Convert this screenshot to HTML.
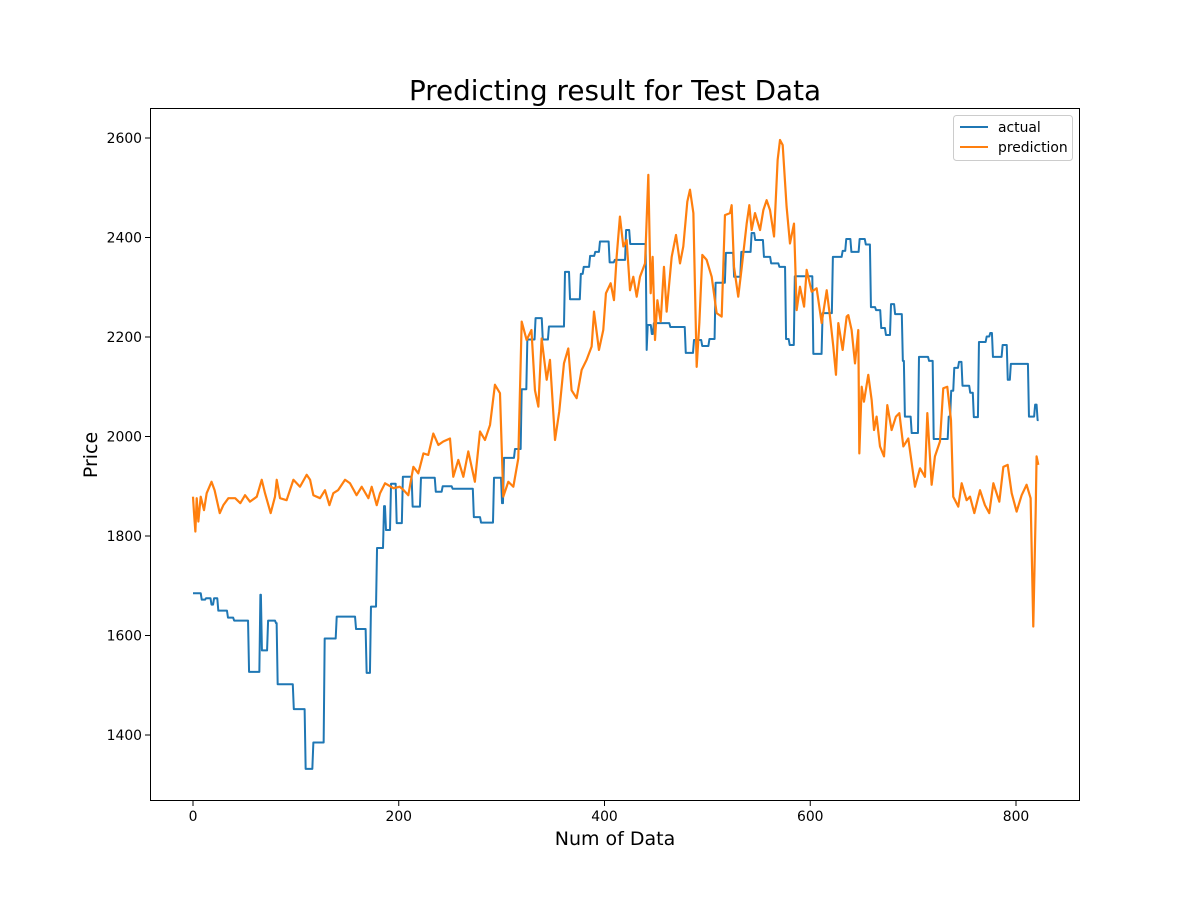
<!DOCTYPE html>
<html><head><meta charset="utf-8"><style>
body{margin:0;background:#fff;}
svg{display:block;font-family:"DejaVu Sans","Liberation Sans",sans-serif;}
</style></head><body>
<svg id="chart" width="1200" height="900" viewBox="0 0 1200 900" xmlns="http://www.w3.org/2000/svg">
<rect width="1200" height="900" fill="#fff"/>
<text x="615" y="100" text-anchor="middle" font-size="27.8" fill="#000">Predicting result for Test Data</text>
<text x="615" y="845" text-anchor="middle" font-size="19" fill="#000">Num of Data</text>
<text transform="translate(97,455) rotate(-90)" text-anchor="middle" font-size="19" fill="#000">Price</text>
<g id="xticks"></g>
<g id="yticks"></g>
<g id="series"></g>
<rect x="150.5" y="108.5" width="929" height="692" fill="none" stroke="#000" stroke-width="1"/>
<g>
<rect x="953.5" y="115.5" width="119" height="45" rx="3" fill="#fff" stroke="#ccc"/>
<line x1="960" y1="127" x2="988" y2="127" stroke="#1f77b4" stroke-width="2"/>
<text x="998" y="132" font-size="13.9" fill="#000">actual</text>
<line x1="960" y1="147" x2="988" y2="147" stroke="#ff7f0e" stroke-width="2"/>
<text x="998" y="152" font-size="13.9" fill="#000">prediction</text>
</g>
</svg>
<script>
const xTicks = [0, 200, 400, 600, 800];
const yTicks = [1400, 1600, 1800, 2000, 2200, 2400, 2600];
const actualX = [0,7.5,11.7,17,19.5,23.6,33,39,53.5,64.5,66,72,79.7,81.3,97,108.5,116,127,138.7,157.5,167.8,172,177.9,184.7,186.6,191.5,197,203,212.5,220.6,235,241.7,251.4,272,279,291.6,299.4,301.3,312,318.5,324,332,339,345,360.6,365.5,376,378.8,385,390,394.6,404,409,420,424,440,441,445,447,463,478,486,494,501,507,517,525,532,542,545.5,554,561,569,575.5,579,584,602,611,621,630.5,634,639,647,653,658,663,668,672.6,677.5,681.5,689,691,697.6,704.7,714.5,719,733.6,736,739,743.6,747,754.5,758,763,770.5,774,776.6,786,791,794,811.6,817.6,820];
const actualV = [1685,1672,1675,1662,1675,1650,1636,1630,1527,1682,1570,1630,1625,1502,1452,1332,1385,1594,1638,1613,1525,1658,1776,1860,1812,1905,1826,1919,1859,1917,1889,1900,1895,1838,1827,1917,1866,1957,1975,2095,2195,2238,2195,2221,2331,2276,2327,2341,2363,2371,2392,2350,2355,2415,2387,2174,2224,2206,2228,2220,2168,2194,2182,2196,2309,2369,2321,2371,2409,2395,2361,2348,2341,2196,2184,2322,2166,2248,2361,2373,2397,2371,2397,2386,2260,2254,2218,2204,2266,2246,2152,2040,2007,2160,2152,1995,2040,2092,2138,2150,2102,2088,2039,2190,2201,2208,2160,2184,2114,2146,2040,2064,2033];
const actualEnd = 822;
const predX = [0,1,2.3,3.6,5.2,7.5,10.7,13.3,18,21,26,29.5,34.4,41,46,50.6,55.4,62,66.8,70,75.5,79.7,81.4,84.6,91,97.6,104,110.5,113.8,117,123.5,128.3,132.6,136.4,141,147.8,152.6,159,164,170.5,173.7,178.6,181.8,186.7,195,201,204.4,209.3,214.2,219,224,228.7,233.6,238.5,243.3,249.8,253,257.9,262.8,267.6,274,279,283.8,288.7,293.5,298.4,301.6,306.5,311.4,316.2,319.5,324.3,329,332.4,335.7,338.9,343.8,347,351.9,356,360.6,364.8,368,372.9,377.8,382.6,387.5,389.8,394.6,398.8,401.4,406,409.2,411.8,415,418.3,421.5,424.8,428,431.3,434.5,439.4,442.6,444.9,446.8,449.1,451.4,454.6,457.8,460.4,465.3,469.5,473.4,476.6,480.5,483.1,486.4,489.6,492.2,495.1,499.3,504.2,509,513.9,517.1,522,523.6,525.9,530,533.3,538.2,540.8,543,546.3,551.2,554.4,557.6,560.9,564.8,568.3,570.6,573.2,577,580.3,584.2,586.8,590,594,596.5,601.4,606.2,611.1,616,619.2,622.4,625,627.3,631.5,635.4,637,640.2,643.5,646.7,647.7,650,652.2,656.4,659.7,662,664.5,667.8,671.7,674.9,679.1,683.3,686.6,690.5,695.3,701.8,706.7,711.5,713.8,718,721.2,726.1,729.3,733.2,736.8,739,743.9,747.2,752,755.3,759.5,765,769.8,774,778,783.8,787.7,791.9,795.8,800.6,805.5,810.3,814.2,816.8,819.1,820,821.7];
const predV = [1879,1846,1809,1876,1829,1879,1852,1886,1909,1892,1846,1862,1876,1876,1866,1882,1869,1879,1913,1886,1846,1879,1913,1876,1872,1913,1899,1923,1913,1882,1876,1892,1862,1886,1892,1913,1906,1882,1899,1876,1899,1862,1886,1906,1896,1899,1893,1882,1939,1926,1966,1963,2006,1983,1990,1996,1919,1953,1919,1970,1909,2010,1993,2023,2104,2087,1879,1909,1899,1956,2231,2194,2214,2093,2060,2197,2114,2154,1993,2050,2147,2177,2093,2077,2134,2154,2181,2251,2174,2214,2288,2308,2274,2361,2442,2382,2395,2294,2321,2281,2321,2348,2526,2288,2361,2194,2274,2231,2341,2251,2361,2405,2348,2382,2472,2496,2449,2140,2228,2365,2355,2321,2248,2241,2445,2449,2465,2341,2281,2338,2428,2465,2415,2449,2415,2455,2475,2455,2402,2556,2596,2586,2462,2388,2428,2254,2301,2261,2335,2291,2298,2228,2294,2241,2181,2124,2228,2174,2241,2244,2214,2147,2214,1966,2100,2070,2124,2073,2013,2040,1980,1960,2063,2013,2040,2047,1980,1996,1899,1936,1919,2047,1903,1960,1990,2097,2100,2033,1879,1859,1906,1872,1879,1846,1892,1862,1846,1906,1869,1939,1943,1886,1849,1882,1903,1876,1618,1846,1960,1943];

const L=150,R=1080,T=108,B=801;
function xs(v){return 193 + (v-0)*(1016-193)/800;}
function ys(v){return 138 + (2600-v)*(735-138)/1200;}
const NS='http://www.w3.org/2000/svg';
const xg=document.getElementById('xticks'), yg=document.getElementById('yticks'), sg=document.getElementById('series');
xTicks.forEach(t=>{
  const x=xs(t);
  const ln=document.createElementNS(NS,'line');
  ln.setAttribute('x1',x);ln.setAttribute('x2',x);ln.setAttribute('y1',B);ln.setAttribute('y2',B+5);
  ln.setAttribute('stroke','#000');
  
  
  xg.appendChild(ln);
  const tx=document.createElementNS(NS,'text');
  tx.setAttribute('x',x);tx.setAttribute('y',B+20);tx.setAttribute('text-anchor','middle');tx.setAttribute('font-size','13.9');
  tx.textContent=t;
  
  
  xg.appendChild(tx);
});
yTicks.forEach(t=>{
  const y=ys(t);
  const ln=document.createElementNS(NS,'line');
  ln.setAttribute('x1',L-5);ln.setAttribute('x2',L);ln.setAttribute('y1',y);ln.setAttribute('y2',y);
  ln.setAttribute('stroke','#000');
  
  
  yg.appendChild(ln);
  const tx=document.createElementNS(NS,'text');
  tx.setAttribute('x',L-8);tx.setAttribute('y',y+5);tx.setAttribute('text-anchor','end');tx.setAttribute('font-size','13.9');
  tx.textContent=t;
  
  
  yg.appendChild(tx);
});
// actual step line
let d='M'+xs(actualX[0])+' '+ys(actualV[0]);
for(let i=1;i<actualX.length;i++){
  d+=' L'+xs(actualX[i])+' '+ys(actualV[i-1])+' L'+xs(actualX[i]+1)+' '+ys(actualV[i]);
}
d+=' L'+xs(actualEnd)+' '+ys(actualV[actualV.length-1]);
const pa=document.createElementNS(NS,'path');
pa.setAttribute('d',d);pa.setAttribute('fill','none');pa.setAttribute('stroke','#1f77b4');pa.setAttribute('stroke-width','2');pa.setAttribute('stroke-linejoin','round');


sg.appendChild(pa);
let d2='';
predX.forEach((x,i)=>{d2+=(i?' L':'M')+xs(x)+' '+ys(predV[i]);});
const pp=document.createElementNS(NS,'path');
pp.setAttribute('d',d2);pp.setAttribute('fill','none');pp.setAttribute('stroke','#ff7f0e');pp.setAttribute('stroke-width','2.2');pp.setAttribute('stroke-linejoin','round');


sg.appendChild(pp);
</script>
</body></html>
